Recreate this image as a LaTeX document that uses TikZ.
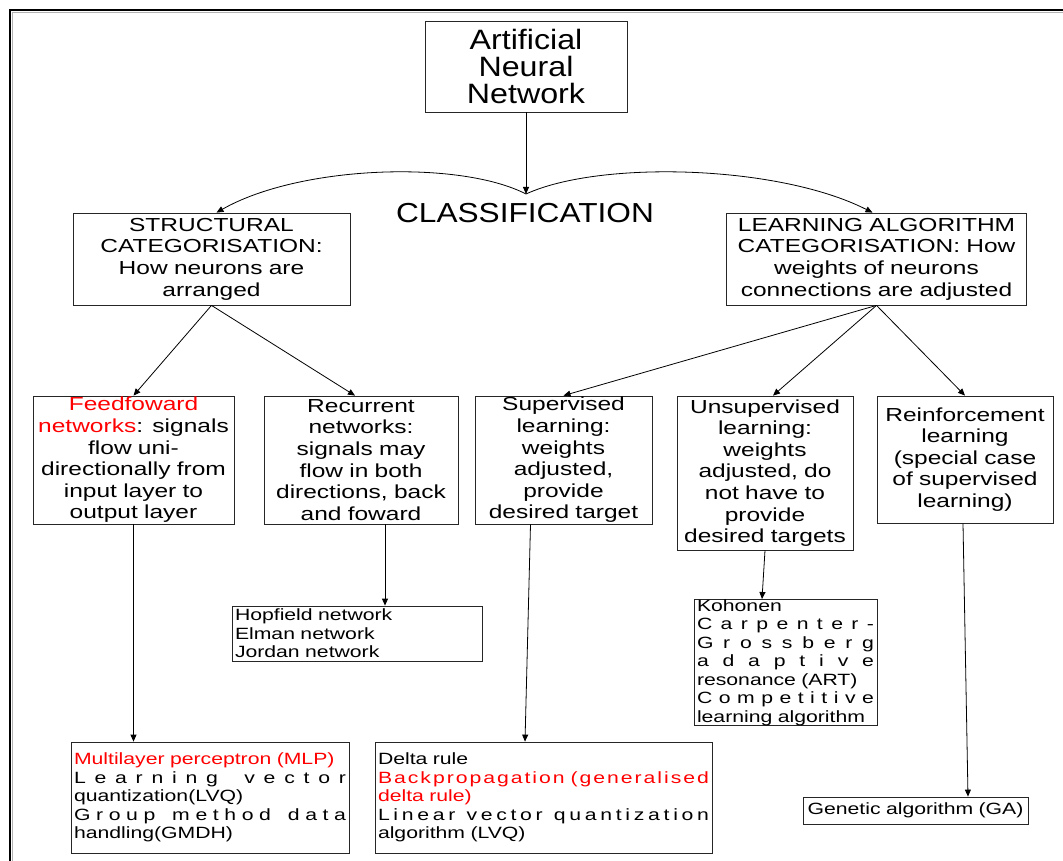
\documentclass[tikz,border=0pt]{standalone}
\usepackage{fontspec}
\setmainfont{Liberation Sans}
\newfontfamily\boxface[FakeStretch=1.3]{Liberation Sans}
\newfontfamily\titleface[FakeStretch=1.15]{Liberation Sans}
\usetikzlibrary{arrows.meta}

% spread the letters of a line over a given width (justified look)
\ExplSyntaxOn
\bool_new:N \l__spread_first_bool
\NewDocumentCommand \spreadtext { m m }
  {
    \makebox [#1] [s]
      {
        \bool_set_true:N \l__spread_first_bool
        \str_map_inline:nn {#2}
          {
            \str_if_eq:nnTF {##1} { ~ }
              { \hfil \hfil }
              {
                \bool_if:NF \l__spread_first_bool { \hfil }
                ##1
                \bool_set_false:N \l__spread_first_bool
              }
          }
      }
  }
\ExplSyntaxOff

\begin{document}
\begin{tikzpicture}[x=1pt,y=-1pt,
  line width=0.8pt,
  tip/.style={-{Triangle[length=7pt,width=6pt]}},
  catbox/.style={draw=black!85, inner sep=0pt, align=center,
    font=\boxface\fontsize{18.85}{21.6}\selectfont},
  listbox/.style={draw=black!85, inner xsep=3pt, inner ysep=0pt, align=left,
    font=\boxface\fontsize{16.3}{18.5}\selectfont},
  sized/.style n args={3}{minimum width=#1pt, minimum height=#2pt, text width=#3pt}
]
\useasboundingbox (0,0) rectangle (1063,861);

% page frame
\draw[line width=2.2pt] (10,861) -- (10,10) -- (1063,10);
\draw[gray!60, line width=1pt] (12.6,861) -- (12.6,12.6) -- (1063,12.6);

% root
\node[draw=black!85, inner sep=0pt, align=center, minimum width=202pt, minimum height=91pt,
      font=\titleface\fontsize{28}{27}\selectfont] (ann) at (526,66.5)
  {Artificial\\Neural\\Network};
\coordinate (fork) at (526,194);
\node[font=\titleface\fontsize{27.5}{30}\selectfont, inner sep=0pt] (classif) at (525,213.5) {CLASSIFICATION};

% two ways of categorising
\node[catbox, sized={277}{92}{277}] (struct) at (211.5,259)
  {STRUCTURAL\\CATEGORISATION:\\How neurons are\\arranged};
\node[catbox, sized={300}{92}{300}] (learn) at (876.5,259)
  {LEARNING ALGORITHM\\CATEGORISATION: How\\weights of neurons\\connections are adjusted};

% network kinds and learning kinds
\node[catbox, sized={201}{128}{201}] (ff) at (133.5,460)
  {{\color{red}Feedfoward}\\{\color{red}networks}: signals\\flow uni-\\directionally from\\input layer to\\output layer};
\node[catbox, sized={194}{128}{194}] (rec) at (361,460)
  {Recurrent\\networks:\\signals may\\flow in both\\directions, back\\and foward};
\node[catbox, sized={177}{128}{177}] (sup) at (563.5,460)
  {Supervised\\learning:\\weights\\adjusted,\\provide\\desired target};
\node[catbox, sized={176}{154}{176}] (unsup) at (765,473)
  {Unsupervised\\learning:\\weights\\adjusted, do\\not have to\\provide\\desired targets};
\node[catbox, sized={176}{127}{176}] (reinf) at (965,459.5)
  {Reinforcement\\learning\\(special case\\of supervised\\learning)};

% examples
\node[listbox, sized={250}{55}{244}] (hop) at (357,633.5)
  {Hopfield network\\Elman network\\Jordan network};
\node[listbox, sized={183}{125}{177}] (koh) at (785.5,662.5)
  {Kohonen\\\spreadtext{177pt}{Carpenter-}\\\spreadtext{177pt}{Grossberg}\\\spreadtext{177pt}{adaptive}\\resonance (ART)\\\spreadtext{177pt}{Competitive}\\learning algorithm};
\node[listbox, sized={278}{111}{272}] (mlp) at (210,797.5)
  {{\color{red}Multilayer perceptron (MLP)}\\\spreadtext{272pt}{Learning vector}\\quantization(LVQ)\\\spreadtext{272pt}{Group method data}\\handling(GMDH)};
\node[listbox, sized={337}{111}{331}] (delta) at (543.5,797.5)
  {Delta rule\\{\color{red}\spreadtext{331pt}{Backpropagation (generalised}}\\{\color{red}delta rule)}\\\spreadtext{331pt}{Linear vector quantization}\\algorithm (LVQ)};
\node[listbox, align=center, sized={225}{27}{219}] (gen) at (915.5,810.5)
  {Genetic algorithm (GA)};

% connectors
\draw[tip] (ann.south) -- (fork);
\draw[tip] (fork) .. controls (460,160) and (300,165) .. ([xshift=5pt]struct.north);
\draw[tip] (fork) .. controls (600,160) and (779,165) .. ([xshift=-4pt]learn.north);

\draw[tip] (struct.south) -- (ff.north);
\draw[tip] (struct.south) -- ([xshift=-6pt]rec.north);
\draw[tip] (learn.south) -- (sup.north);
\draw[tip] (learn.south) -- ([xshift=8pt]unsup.north);
\draw[tip] (learn.south) -- (reinf.north);

\draw[tip] (ff.south) -- (ff.south |- mlp.north);
\draw[tip] ([xshift=24pt]rec.south) -- ([xshift=24pt]rec.south |- hop.north);
\draw[tip] ([xshift=-33pt]sup.south) -- ([xshift=-18.5pt]delta.north);
\draw[tip] (unsup.south) -- ([xshift=-23.5pt]koh.north);
\draw[tip] ([xshift=-2pt]reinf.south) -- ([xshift=52.5pt]gen.north);
\end{tikzpicture}
\end{document}
